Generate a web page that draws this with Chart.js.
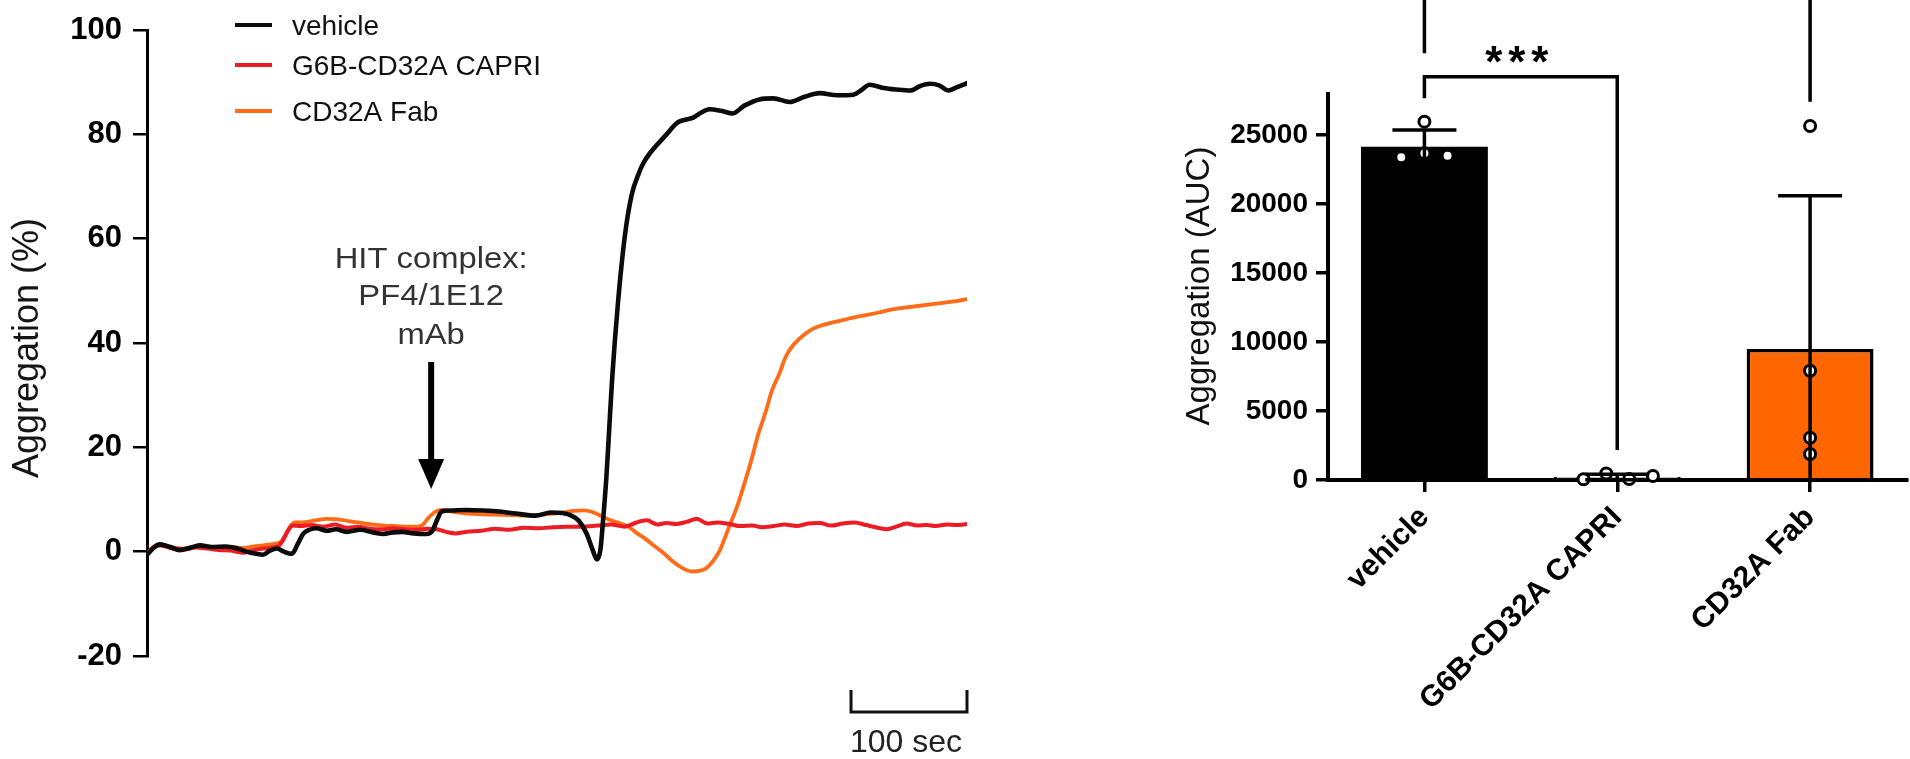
<!DOCTYPE html>
<html><head><meta charset="utf-8">
<script src="https://cdn.jsdelivr.net/npm/chart.js@4.4.1/dist/chart.umd.min.js"></script>
<style>
html,body{margin:0;padding:0;background:#fff;width:1910px;height:759px;overflow:hidden;}
#c1{position:absolute;left:0;top:0;}
#c2{position:absolute;left:1150px;top:0;}
</style></head><body>
<canvas id="c1" width="1000" height="759"></canvas>
<canvas id="c2" width="760" height="759"></canvas>
<script>
// ---------- Left panel: aggregation traces (time in s, aggregation in %) ----------
const seriesNames = ['vehicle', 'G6B-CD32A CAPRI', 'CD32A Fab'];

const vehicleTime = [0,6,11,20,28,38,46,56,68,78,86,94,100,106,112,118,125,130,135,140,146,155,163,172,184,195,204,212,220,230,241,246,250,254,262,275,290,304,318,335,348,358,365,372,379,384,388,391,393,396,398,401,406,412,418,424,428,434,439,448,457,464,471,478,485,495,505,515,528,540,554,567,580,595,609,616,623,635,646,658,667,675,683,691,698,707];
const vehicleValues = [-0.6,0.8,1.4,0.9,0.3,0.8,1.2,0.9,1.0,0.6,0.0,-0.4,-0.6,0.2,0.6,0.0,-0.4,1.5,3.5,4.2,4.5,4.0,4.3,3.8,4.2,3.7,3.4,3.7,3.8,3.5,3.4,4.0,6.0,7.7,7.9,8.0,7.9,7.7,7.3,6.9,7.5,7.4,7.0,6.0,3.5,0.5,-1.5,0.5,5.4,14,21.5,33,47.5,60.5,68.5,72.5,74.5,76.5,77.8,80.0,82.2,82.8,83.2,84.2,84.8,84.5,84.0,85.5,86.7,86.9,86.2,87.2,87.9,87.5,87.6,88.5,89.5,88.9,88.6,88.4,89.3,89.7,89.4,88.4,89.0,89.8];

const capriTime = [0,6,12,22,32,42,52,62,72,82,92,100,108,114,118,122,126,132,142,152,162,172,182,192,202,212,222,232,242,250,258,266,276,288,300,312,325,338,350,362,375,388,400,412,422,431,440,448,456,465,474,483,492,502,512,522,530,540,550,560,570,580,590,600,610,620,630,638,646,655,664,672,680,690,698,707];
const capriValues = [-0.3,0.9,1.2,0.6,0.4,0.8,0.6,0.3,0.2,-0.2,0.3,0.6,0.8,1.2,2.5,4.2,5.0,4.9,5.1,4.8,5.2,4.6,4.8,4.4,4.3,4.5,4.3,4.2,4.4,4.3,3.8,3.5,3.8,4.0,4.4,4.2,4.6,4.5,4.7,4.8,4.8,5.0,5.2,4.8,5.6,6.0,5.2,5.5,5.3,5.7,6.3,5.4,5.6,5.3,4.9,5.0,4.7,4.9,5.2,4.9,5.4,5.5,5.0,5.4,5.6,5.1,4.6,4.3,4.8,5.4,5.0,5.1,4.9,5.2,5.1,5.3];

const fabTime = [0,6,12,22,32,42,52,62,72,82,92,100,106,112,116,120,124,128,134,145,155,165,175,185,195,205,215,225,233,238,242,246,250,255,262,272,285,300,315,330,345,358,368,376,384,392,400,408,415,422,430,438,446,454,462,470,476,482,488,494,498,503,509,515,521,527,533,539,545,551,558,566,574,582,592,604,616,630,644,658,672,686,700,707];
const fabValues = [-0.4,1.0,1.4,0.8,0.6,1.0,0.8,0.6,0.9,0.7,1.0,1.2,1.4,1.6,2.0,3.5,5.0,5.6,5.6,6.0,6.3,6.2,5.8,5.5,5.2,5.0,4.9,4.8,4.8,5.2,6.3,7.2,7.8,8.0,7.7,7.4,7.2,7.1,7.0,6.9,7.2,7.5,7.8,7.9,7.6,6.8,6.0,5.4,4.8,3.6,2.4,1.0,-0.4,-2.0,-3.2,-3.8,-3.7,-3.2,-1.8,0.3,2.5,5.4,8.8,13.0,17.5,22.5,26.5,31.0,34.0,37.5,39.8,41.5,42.7,43.4,44.0,44.6,45.2,45.8,46.5,46.9,47.3,47.7,48.1,48.4];

const yTicksLeft = [-20, 0, 20, 40, 60, 80, 100];
const annotationLines = ['HIT complex:', 'PF4/1E12', 'mAb'];
const hitTime = 245;          // time of HIT complex addition (s)
const scaleBarSeconds = 100;

// ---------- Right panel: AUC bars ----------
const groups = ['vehicle', 'G6B-CD32A CAPRI', 'CD32A Fab'];
const aucMean = [24150, 220, 9500];
const aucSD = [1210, 200, 11100];
const vehicleAUC = [23384, 25966, 23674, 23505];
const capriAUC = [50, 480, 70, 290];
const fabAUC = [25650, 7920, 3065, 1885];
const yTicksRight = [0, 5000, 10000, 15000, 20000, 25000];

// ---------- styles ----------
const FONT = '"Liberation Sans", Arial, Helvetica, sans-serif';
Chart.defaults.font.family = FONT;
const lineColors = ['#0b0b0b', '#ec1c24', '#ff6b17'];
const lineWidths = [4.6, 4, 3.8];
const pointJitter = [[-0.12, 0, 0, 0.12], [-0.175, -0.057, 0.062, 0.185], [0, 0, 0, 0]];

function xy(ts, vs) { return ts.map((t, i) => ({ x: t, y: vs[i] })); }

const leftDecor = {
  id: 'leftDecor',
  afterDraw(chart) {
    const ctx = chart.ctx, xs = chart.scales.x, ys = chart.scales.y;
    ctx.save();
    // legend
    const legY = [25, 65, 111];
    chart.data.datasets.forEach((ds, i) => {
      ctx.strokeStyle = ds.borderColor; ctx.lineWidth = 4; ctx.lineCap = 'butt';
      ctx.beginPath(); ctx.moveTo(235, legY[i]); ctx.lineTo(272, legY[i]); ctx.stroke();
      ctx.fillStyle = '#111'; ctx.font = '28px ' + FONT; ctx.textAlign = 'left'; ctx.textBaseline = 'alphabetic';
      ctx.fillText(ds.label, 292, legY[i] + 10);
    });
    // y title
    ctx.save();
    ctx.translate(28, 348); ctx.rotate(-Math.PI / 2);
    ctx.fillStyle = '#151515'; ctx.font = '36px ' + FONT; ctx.textAlign = 'center'; ctx.textBaseline = 'middle';
    ctx.fillText('Aggregation (%)', 0, 0);
    ctx.restore();
    // annotation
    const ax = xs.getPixelForValue(hitTime);
    const baselines = [268, 305, 344];
    ctx.fillStyle = '#333'; ctx.font = '29px ' + FONT; ctx.textAlign = 'center'; ctx.textBaseline = 'alphabetic';
    annotationLines.forEach((s, i) => {
      ctx.save(); ctx.translate(ax, baselines[i]); ctx.scale(1.13, 1); ctx.fillText(s, 0, 0); ctx.restore();
    });
    // arrow
    const tipY = ys.getPixelForValue(12);
    ctx.strokeStyle = '#000'; ctx.fillStyle = '#000'; ctx.lineWidth = 6;
    ctx.beginPath(); ctx.moveTo(ax, 362); ctx.lineTo(ax, tipY - 25); ctx.stroke();
    ctx.beginPath(); ctx.moveTo(ax - 13, tipY - 30); ctx.lineTo(ax + 13, tipY - 30); ctx.lineTo(ax, tipY); ctx.closePath(); ctx.fill();
    // scale bar
    const x1 = xs.getPixelForValue(xs.max - scaleBarSeconds), x2 = xs.getPixelForValue(xs.max);
    ctx.lineWidth = 3; ctx.strokeStyle = '#111';
    ctx.beginPath(); ctx.moveTo(x1, 690); ctx.lineTo(x1, 712); ctx.lineTo(x2, 712); ctx.lineTo(x2, 690); ctx.stroke();
    ctx.fillStyle = '#222'; ctx.font = '32px ' + FONT; ctx.textAlign = 'center'; ctx.textBaseline = 'alphabetic';
    ctx.fillText(scaleBarSeconds + ' sec', (x1 + x2) / 2 - 3, 752);
    ctx.restore();
  }
};

new Chart(document.getElementById('c1'), {
  type: 'line',
  data: {
    datasets: [
      { label: seriesNames[0], data: xy(vehicleTime, vehicleValues) },
      { label: seriesNames[1], data: xy(capriTime, capriValues) },
      { label: seriesNames[2], data: xy(fabTime, fabValues) }
    ].map((d, i) => Object.assign(d, {
      borderColor: lineColors[i], borderWidth: lineWidths[i], pointRadius: 0,
      cubicInterpolationMode: 'monotone', fill: false, borderJoinStyle: 'round', borderCapStyle: 'round'
    }))
  },
  options: {
    responsive: false, animation: false, devicePixelRatio: 1,
    layout: { padding: { left: 0, right: 33, top: 30, bottom: 103 } },
    plugins: { legend: { display: false }, tooltip: { enabled: false } },
    scales: {
      x: { type: 'linear', min: 0, max: 707, display: false },
      y: {
        min: -20, max: 100,
        afterFit(s) { s.width = 147; },
        afterBuildTicks(s) { s.ticks = yTicksLeft.map(v => ({ value: v })); },
        ticks: { stepSize: 20, font: { family: FONT, size: 31, weight: 'bold' }, color: '#000', padding: 11,
                 callback: v => String(v) },
        grid: { display: true, drawOnChartArea: false, drawTicks: true, tickLength: 14, color: '#000', lineWidth: 2.5 },
        border: { display: true, color: '#000', width: 3 }
      }
    }
  },
  plugins: [leftDecor]
});

// ---------- right chart ----------
const allPoints = [vehicleAUC, capriAUC, fabAUC];

const rightDecor = {
  id: 'rightDecor',
  afterDatasetsDraw(chart) {
    const ctx = chart.ctx, ys = chart.scales.y, xs = chart.scales.x;
    const meta = chart.getDatasetMeta(0);
    const step = xs.getPixelForValue(1) - xs.getPixelForValue(0);
    ctx.save();
    // individual points (open circles)
    ctx.lineWidth = 3; ctx.strokeStyle = '#000'; ctx.fillStyle = '#fff';
    allPoints.forEach((arr, gi) => {
      arr.forEach((v, k) => {
        const px = xs.getPixelForValue(gi) + pointJitter[gi][k] * step;
        const py = ys.getPixelForValue(v);
        ctx.beginPath(); ctx.arc(px, py, 5.5, 0, Math.PI * 2); ctx.fill(); ctx.stroke();
      });
    });
    // error bars (mean ± SD), drawn over the points
    ctx.strokeStyle = '#000'; ctx.lineWidth = 3.5; ctx.lineCap = 'butt';
    meta.data.forEach((bar, i) => {
      const m = aucMean[i], sd = aucSD[i], x = bar.x;
      const yt = ys.getPixelForValue(m + sd);
      const lo = m - sd; const yb = ys.getPixelForValue(Math.max(lo, 0));
      ctx.beginPath(); ctx.moveTo(x, yt); ctx.lineTo(x, yb); ctx.stroke();
      ctx.beginPath(); ctx.moveTo(x - 32, yt); ctx.lineTo(x + 32, yt); ctx.stroke();
      if (lo > 0) { ctx.beginPath(); ctx.moveTo(x - 32, yb); ctx.lineTo(x + 32, yb); ctx.stroke(); }
    });
    ctx.restore();
  },
  afterDraw(chart) {
    const ctx = chart.ctx, ys = chart.scales.y, xs = chart.scales.x;
    const x0 = xs.getPixelForValue(0), x1 = xs.getPixelForValue(1), x2 = xs.getPixelForValue(2);
    ctx.save(); ctx.strokeStyle = '#000'; ctx.lineWidth = 3.5; ctx.lineCap = 'butt'; ctx.lineJoin = 'miter';
    // bracket vehicle vs CAPRI
    const b1 = ys.getPixelForValue(29225);
    ctx.beginPath();
    ctx.moveTo(x0, ys.getPixelForValue(27660)); ctx.lineTo(x0, b1); ctx.lineTo(x1, b1); ctx.lineTo(x1, ys.getPixelForValue(2170));
    ctx.stroke();
    // bracket vehicle vs Fab (top, cut off by the frame)
    const b2 = ys.getPixelForValue(35200);
    ctx.beginPath();
    ctx.moveTo(x0, ys.getPixelForValue(30920)); ctx.lineTo(x0, b2); ctx.lineTo(x2, b2); ctx.lineTo(x2, ys.getPixelForValue(27410));
    ctx.stroke();
    // stars
    ctx.fillStyle = '#000'; ctx.font = 'bold 44px ' + FONT; ctx.textAlign = 'center'; ctx.textBaseline = 'alphabetic';
    const m = ctx.measureText('*');
    const cy = ys.getPixelForValue(30800);
    const base = cy + (m.actualBoundingBoxAscent - m.actualBoundingBoxDescent) / 2;
    const cx = (x0 + x1) / 2 - 4;
    [-23, 0, 23].forEach(d => ctx.fillText('*', cx + d, base));
    // y title
    ctx.translate(50, 286); ctx.rotate(-Math.PI / 2);
    ctx.fillStyle = '#111'; ctx.font = '33px ' + FONT; ctx.textAlign = 'center'; ctx.textBaseline = 'middle';
    ctx.fillText('Aggregation (AUC)', 0, 0);
    ctx.restore();
  }
};

new Chart(document.getElementById('c2'), {
  type: 'bar',
  data: {
    labels: groups,
    datasets: [
      { data: aucMean, grouped: false,
        backgroundColor: ['#000', '#fff', '#ff6600'], borderColor: '#000', borderWidth: [0, 3, 3.5],
        categoryPercentage: 1, barPercentage: 0.658 }
    ]
  },
  options: {
    responsive: false, animation: false, devicePixelRatio: 1,
    layout: { padding: { left: 0, right: 3.5, top: 93.6, bottom: 0 } },
    plugins: { legend: { display: false }, tooltip: { enabled: false } },
    scales: {
      x: {
        type: 'category', offset: true,
        afterFit(s) { s.height = 279; },
        grid: { display: true, drawOnChartArea: false, offset: false, drawTicks: true, tickLength: 12, color: '#000', lineWidth: 3.5 },
        border: { display: true, color: '#000', width: 4 },
        ticks: { minRotation: 45, maxRotation: 45, autoSkip: false, font: { family: FONT, size: 30, weight: 'bold' }, color: '#000', padding: 8 }
      },
      y: {
        min: 0, max: 28000,
        afterFit(s) { s.width = 178; },
        afterBuildTicks(s) { s.ticks = yTicksRight.map(v => ({ value: v })); },
        ticks: { font: { family: FONT, size: 28, weight: 'bold' }, color: '#000', padding: 8, callback: v => String(v) },
        grid: { display: true, drawOnChartArea: false, drawTicks: true, tickLength: 12, color: '#000', lineWidth: 3.5 },
        border: { display: true, color: '#000', width: 4 }
      }
    }
  },
  plugins: [rightDecor]
});
</script>
</body></html>
